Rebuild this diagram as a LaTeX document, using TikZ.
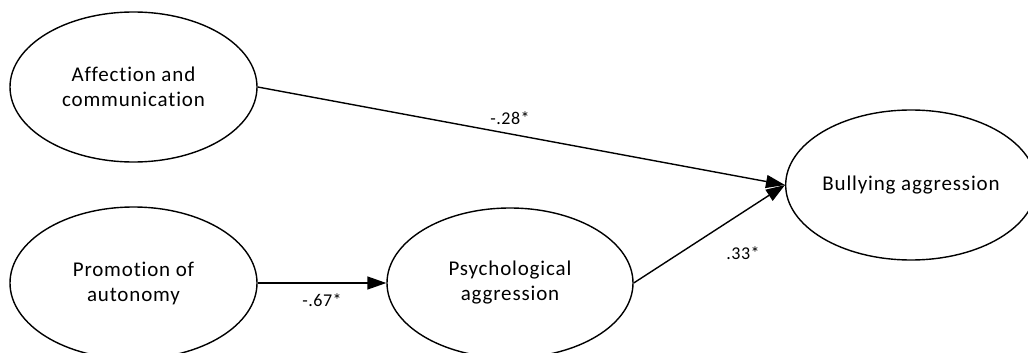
\documentclass[tikz,border=0pt]{standalone}
\usepackage{fontspec}
\setmainfont[Ligatures={NoCommon,NoDiscretionary}]{Carlito}
\usetikzlibrary{shapes.geometric,arrows.meta}
\begin{document}
\begin{tikzpicture}[x=1pt,y=-1pt,
  latent/.style={ellipse,draw,line width=1.4pt,inner sep=0pt,minimum width=247pt,minimum height=150pt,align=center,font=\fontsize{21}{25}\selectfont\addfontfeature{LetterSpace=4}},
  path/.style={line width=1.4pt,-{Triangle[length=19pt,width=13pt]}},
  coef/.style={font=\fontsize{18}{20}\selectfont\addfontfeature{LetterSpace=3},inner sep=0pt}]
\useasboundingbox (0,0) rectangle (1028,353);
\node[latent] (aff) at (133.5,87) {Affection and\\communication};
\node[latent,minimum height=152pt] (pro) at (133.5,283) {Promotion of\\autonomy};
\node[latent,minimum width=246pt] (psy) at (510,283) {Psychological\\aggression};
\node[latent,minimum width=246pt] (bul) at (911,185) {Bullying aggression};
\draw[path] (aff.east) -- (bul.west);
\draw[path] (pro.east) -- (psy.west);
\draw[path] (psy.east) -- (bul.west);
\node[coef] (c1) at (510,118) {-.28*};
\node[coef] (c2) at (322,300) {-.67*};
\node[coef] (c3) at (743,253) {.33*};
\end{tikzpicture}
\end{document}
